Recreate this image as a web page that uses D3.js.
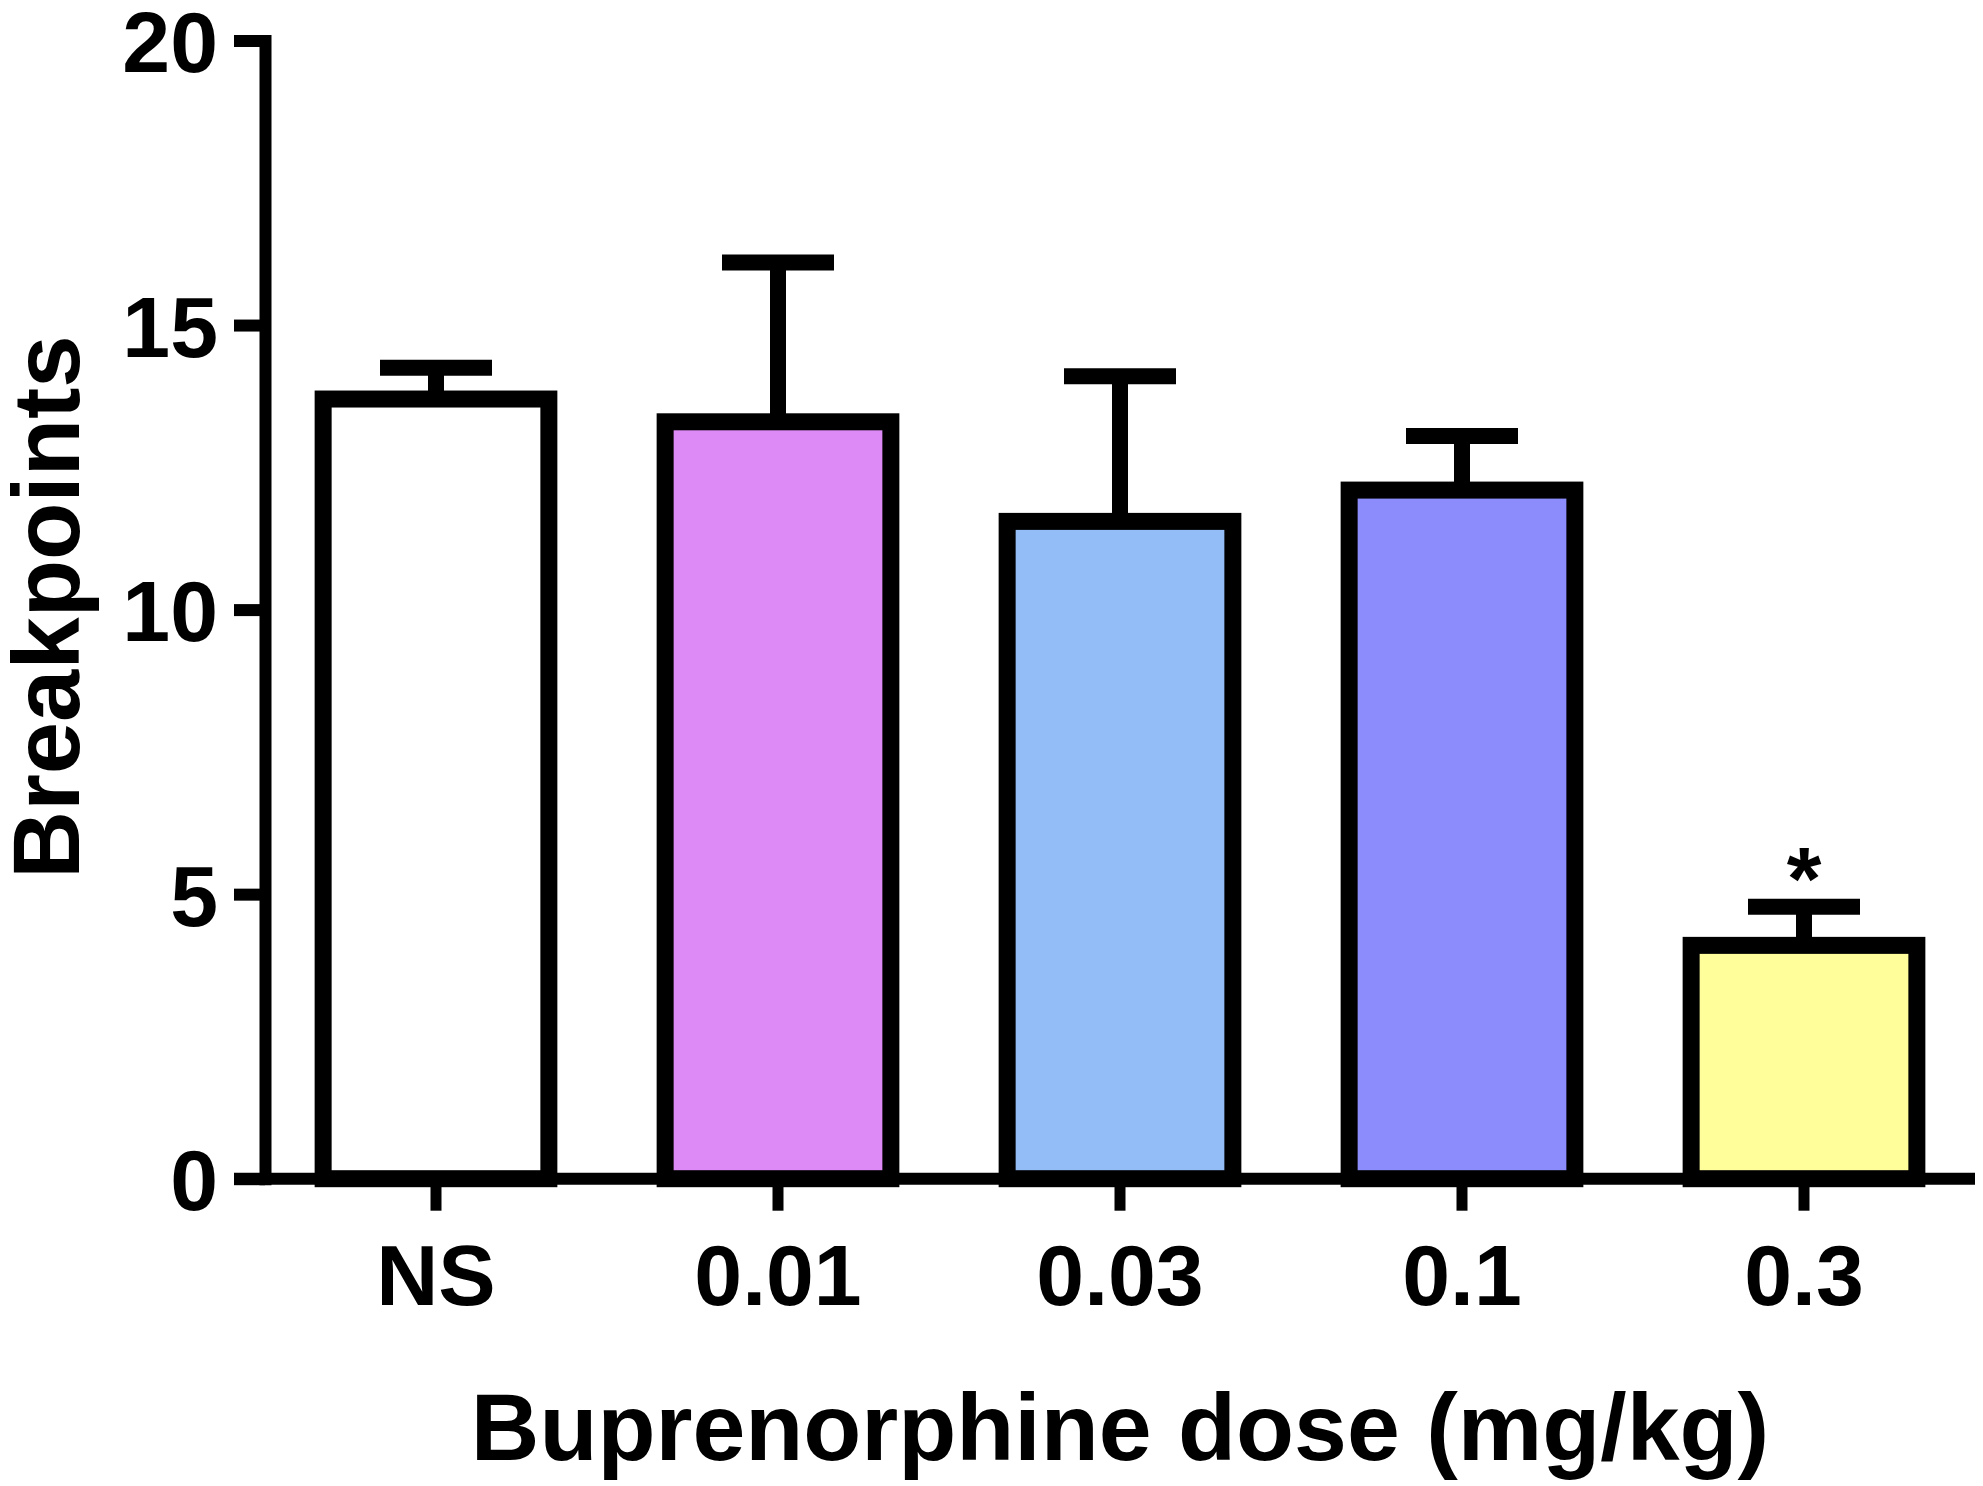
<!DOCTYPE html>
<html>
<head>
<meta charset="utf-8">
<script src="https://cdn.jsdelivr.net/npm/d3@7"></script>
<style>
    body { margin: 0; background: #fff; }
    text { font-family: "Liberation Sans", Arial, sans-serif; font-weight: bold; fill: #000; }
</style>
</head>
<body>
<script>

// data
const doses = ["NS", "0.01", "0.03", "0.1", "0.3"];
const means = [13.7, 13.3, 11.55, 12.1, 4.1];
const sems = [0.55, 2.8, 2.55, 0.95, 0.68];
const fills = ["#ffffff", "#dd8af6", "#93bdf7", "#8c8cfc", "#fffe9b"];
const marks = ["", "", "", "", "*"];
const yTicks = [0, 5, 10, 15, 20];

const options = {
    width: 1983,
    height: 1486,
    left: 265,
    right: 1975,
    top: 40.5,
    bottom: 1178.7,
}

const rows = doses.map((d, i) => ({ dose: d, mean: means[i], sem: sems[i], fill: fills[i], mark: marks[i] }));

let svg = d3.select("body")
    .append("svg")
    .attr("width", options.width)
    .attr("height", options.height)

const x = d3.scaleBand()
    .domain(doses)
    .range([options.left, options.right])
    .paddingInner(0.34)
    .paddingOuter(0.17);

const y = d3.scaleLinear()
    .domain([0, 20])
    .range([options.bottom, options.top]);

const tickLen = 31;
const capHalf = 56;
const cx = d => x(d.dose) + x.bandwidth() / 2;

// error bars (upper only)
let err = svg.append("g")
    .selectAll("g")
    .data(rows)
    .enter()
    .append("g")
    .attr("stroke", "#000")
    .attr("stroke-width", 16)

err.append("line")
    .attr("x1", cx)
    .attr("x2", cx)
    .attr("y1", d => y(d.mean))
    .attr("y2", d => y(d.mean + d.sem))

err.append("line")
    .attr("x1", d => cx(d) - capHalf)
    .attr("x2", d => cx(d) + capHalf)
    .attr("y1", d => y(d.mean + d.sem))
    .attr("y2", d => y(d.mean + d.sem))

// bars
svg.append("g")
    .selectAll("rect")
    .data(rows)
    .enter()
    .append("rect")
    .attr("x", d => x(d.dose))
    .attr("width", x.bandwidth())
    .attr("y", d => y(d.mean))
    .attr("height", d => y(0) - y(d.mean))
    .style("fill", d => d.fill)
    .style("stroke", "#000")
    .style("stroke-width", 17)

// significance marks
svg.append("g")
    .selectAll("text")
    .data(rows)
    .enter()
    .append("text")
    .attr("x", cx)
    .attr("y", d => y(d.mean + d.sem) + 2)
    .attr("text-anchor", "middle")
    .style("font-size", "89px")
    .text(d => d.mark)

// y axis
let yAxis = svg.append("g")
    .attr("transform", `translate(${options.left},0)`)
    .call(d3.axisLeft(y).tickValues(yTicks).tickSize(tickLen).tickSizeOuter(0).tickPadding(16))

yAxis.select(".domain").attr("stroke-width", 12).attr("stroke-linecap", "square")
yAxis.selectAll(".tick line").attr("stroke-width", 12)
yAxis.selectAll(".tick text")
    .attr("dy", "0.36em")
    .style("font-size", "86px")
    .style("font-family", "'Liberation Sans', Arial, sans-serif")
    .style("font-weight", "bold")
    .attr("fill", "#000")

// x axis
let xAxis = svg.append("g")
    .attr("transform", `translate(0,${options.bottom})`)
    .call(d3.axisBottom(x).tickSize(32).tickSizeOuter(0).tickPadding(33))

xAxis.select(".domain").remove()
xAxis.append("line")
    .attr("x1", x.range()[0] - tickLen)
    .attr("x2", x.range()[1])
    .attr("stroke", "#000")
    .attr("stroke-width", 12)
xAxis.selectAll(".tick line").attr("stroke-width", 11)
xAxis.selectAll(".tick text")
    .style("font-size", "86px")
    .style("font-family", "'Liberation Sans', Arial, sans-serif")
    .style("font-weight", "bold")
    .attr("fill", "#000")

// axis titles
svg.append("text")
    .attr("transform", `translate(79,607) rotate(-90)`)
    .attr("text-anchor", "middle")
    .style("font-size", "94px")
    .text("Breakpoints")

svg.append("text")
    .attr("x", (options.left + options.right) / 2)
    .attr("y", 1460)
    .attr("text-anchor", "middle")
    .style("font-size", "95px")
    .text("Buprenorphine dose (mg/kg)")

</script>
</body>
</html>
